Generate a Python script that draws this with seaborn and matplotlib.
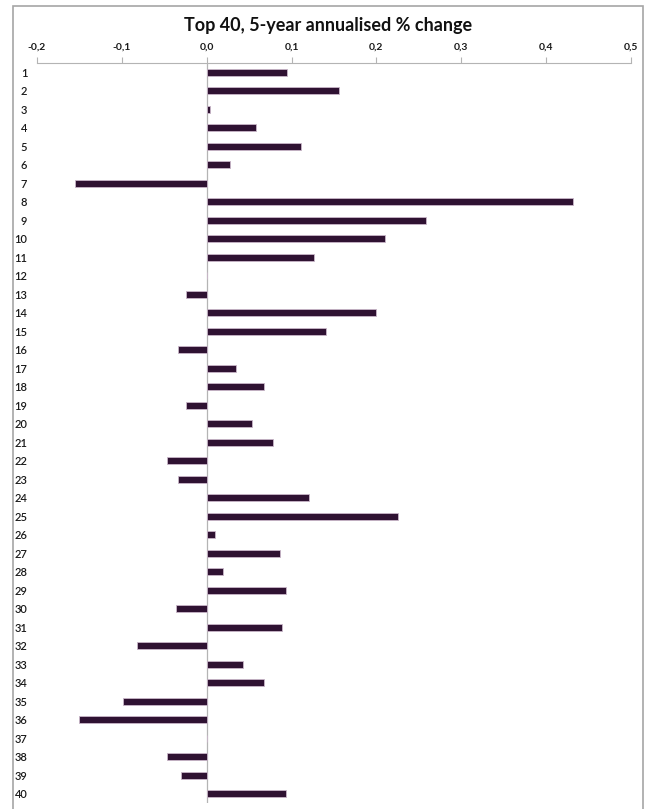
import matplotlib
matplotlib.use("Agg")
import matplotlib.pyplot as plt
from matplotlib.patches import Rectangle
from matplotlib.ticker import FixedLocator, FuncFormatter
import seaborn as sns
import pandas as pd

# Rank of each constituent and its 5-year annualised change
ranks = ["1", "2", "3", "4", "5", "6", "7", "8", "9", "10",
         "11", "12", "13", "14", "15", "16", "17", "18", "19", "20",
         "21", "22", "23", "24", "25", "26", "27", "28", "29", "30",
         "31", "32", "33", "34", "35", "36", "37", "38", "39", "40"]
changes = [0.095, 0.156, 0.004, 0.058, 0.111, 0.027, -0.155, 0.432, 0.258, 0.210,
           0.126, 0.0, -0.025, 0.199, 0.141, -0.034, 0.035, 0.068, -0.025, 0.053,
           0.078, -0.047, -0.034, 0.120, 0.226, 0.010, 0.086, 0.019, 0.094, -0.036,
           0.089, -0.082, 0.043, 0.067, -0.099, -0.151, 0.0, -0.047, -0.030, 0.093]
x_ticks = [-0.2, -0.1, 0.0, 0.1, 0.2, 0.3, 0.4, 0.5]
title = "Top 40, 5-year annualised % change"

sns.set_theme(style="white")
plt.rcParams["font.family"] = ["Lato", "DejaVu Sans"]

df = pd.DataFrame({"rank": ranks, "change": changes})

fig = plt.figure(figsize=(6.48, 8.09), dpi=100)
ax = fig.add_axes([37 / 648, 1 - 803 / 809, (631 - 37) / 648, (803 - 63) / 809])

sns.barplot(data=df, x="change", y="rank", order=ranks, orient="h",
            color="#2f1232", saturation=1, width=0.38,
            edgecolor="#c9b6c9", linewidth=0.6, ax=ax)

ax.set_xlim(-0.2, 0.5)
ax.set_ylim(len(ranks) - 0.5, -0.5)

# value axis along the top
ax.xaxis.set_ticks_position("top")
ax.xaxis.set_label_position("top")
ax.xaxis.set_major_locator(FixedLocator(x_ticks))
ax.xaxis.set_major_formatter(FuncFormatter(lambda v, p: f"{v:.1f}".replace(".", ",")))
ax.tick_params(axis="x", direction="out", length=4, width=0.8, color="#b4b4b4",
               pad=4, labelsize=7.5, labelcolor="#1a1a1a")
for lbl in ax.get_xticklabels():
    lbl.set_fontweight("bold")
ax.tick_params(axis="y", length=0, pad=7, labelsize=8, labelcolor="#1a1a1a")
for lbl in ax.get_yticklabels():
    lbl.set_fontweight("semibold")

ax.set_xlabel("")
ax.set_ylabel("")
for side in ["left", "right", "bottom"]:
    ax.spines[side].set_visible(False)
ax.spines["top"].set_color("#b4b4b4")
ax.spines["top"].set_linewidth(0.8)

# category axis crossing at zero
ax.axvline(0, color="#b4b4b4", linewidth=0.9, zorder=0.5)

fig.text(328 / 648, 1 - 26 / 809, title, ha="center", va="center",
         fontsize=13, fontweight="bold", color="#111111")

# chart frame
fig.patches.append(Rectangle((12.5 / 648, -0.05), (643 - 12.5) / 648, 1.05 - 6 / 809,
                             transform=fig.transFigure, fill=False,
                             edgecolor="#a6a6a6", linewidth=1.2, clip_on=False))

fig.savefig("out.png", dpi=100, facecolor="white")
